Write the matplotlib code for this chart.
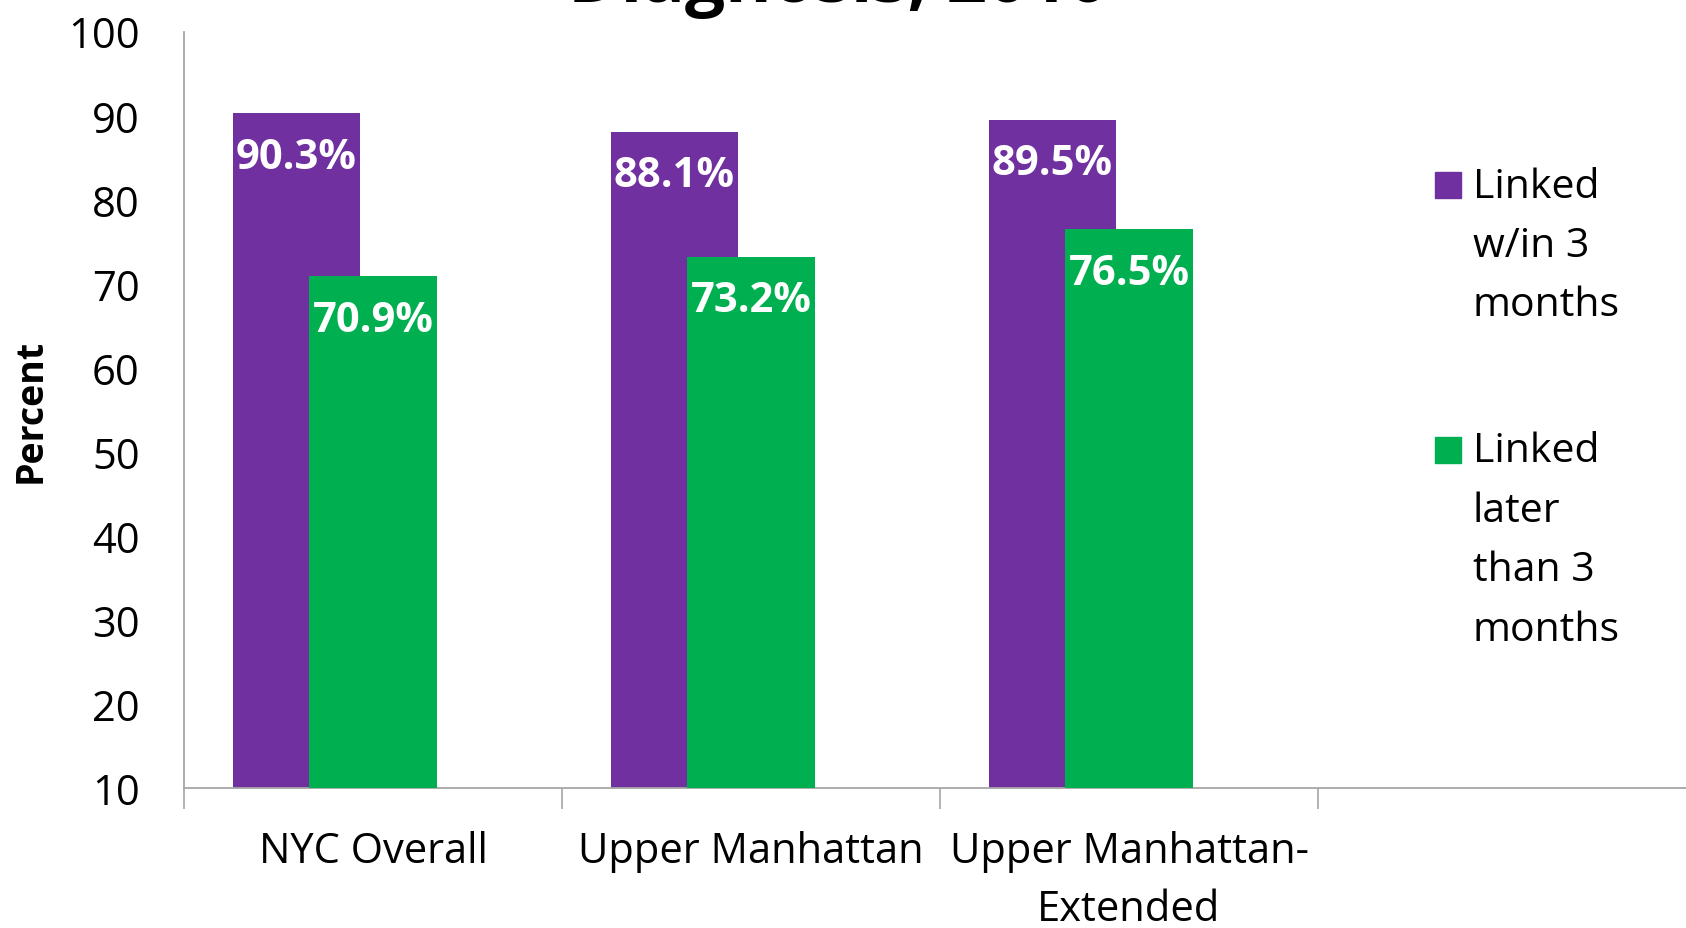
import matplotlib
matplotlib.use("Agg")
import matplotlib.pyplot as plt
from matplotlib.patches import Rectangle
import numpy as np

categories = ["NYC Overall", "Upper Manhattan", "Upper Manhattan-\nExtended"]
series_names = ["Linked\nw/in 3\nmonths", "Linked\nlater\nthan 3\nmonths"]
within_3 = [90.3, 88.1, 89.5]
later_3 = [70.9, 73.2, 76.5]
yticks = [10, 20, 30, 40, 50, 60, 70, 80, 90, 100]
title = "Diagnosis, 2010"

PURPLE = "#7030A0"
GREEN = "#00B050"
FONT = "Open Sans"

plt.rcParams['font.family'] = [FONT, 'DejaVu Sans']

W, H = 1686, 929
fig = plt.figure(figsize=(W / 100, H / 100), dpi=100)
left = 184 / W
right = (184 + 4 * 378) / W
bottom = 1 - 789 / H
top = 1 - 32.5 / H
ax = fig.add_axes([left, bottom, right - left, top - bottom])

x = np.arange(len(categories))
bw = 0.336
off = -0.2024
b1 = ax.bar(x + off, [v - 10 for v in within_3], bw, bottom=10, color=PURPLE, zorder=2)
b2 = ax.bar(x, [v - 10 for v in later_3], bw, bottom=10, color=GREEN, zorder=3)

for bars, vals in ((b1, within_3), (b2, later_3)):
    for r, v in zip(bars, vals):
        ax.annotate(f"{v:.1f}%", (r.get_x() + r.get_width() / 2, v),
                    xytext=(0, -44 * 0.72), textcoords="offset points",
                    ha="center", va="center", color="white",
                    fontsize=30, fontweight="bold", zorder=5)

ax.set_xlim(-0.5, 3.5)
ax.set_ylim(10, 100)
ax.set_yticks(yticks)
ax.set_yticklabels([str(t) for t in yticks], fontsize=30)
ax.tick_params(axis="y", length=0, pad=32)

ax.set_xticks([-0.5, 0.5, 1.5, 2.5, 3.5])
ax.set_xticklabels([])
ax.tick_params(axis="x", which="major", length=15, width=1.2, color="#A6A6A6", direction="out")
ax.set_xticks(x, minor=True)
ax.set_xticklabels(categories, minor=True, fontsize=30, linespacing=1.5)
ax.tick_params(axis="x", which="minor", length=0, pad=30)

for s in ("top", "right"):
    ax.spines[s].set_visible(False)
for s in ("left", "bottom"):
    ax.spines[s].set_color("#A6A6A6")
    ax.spines[s].set_linewidth(1.3)

ax.set_ylabel("Percent", fontsize=27, fontweight="bold")
ax.yaxis.set_label_coords((50 - 184) / (W * (right - left)), 0.5)

# legend (manual)
leg_x = 1435 / W
sq = 26
for name, col, ytop in ((series_names[0], PURPLE, 173), (series_names[1], GREEN, 438)):
    fig.add_artist(Rectangle((leg_x, 1 - (ytop + sq) / H), sq / W, sq / H,
                             transform=fig.transFigure, color=col))
    fig.text(1473 / W, 1 - (ytop - 6) / H, name, fontsize=29.5, va="top", ha="left",
             linespacing=1.62)

fig.text(0.497, 1 - 2 / H, title, fontsize=51, fontweight="bold", ha="center", va="baseline")

fig.savefig("out.png", dpi=100)
